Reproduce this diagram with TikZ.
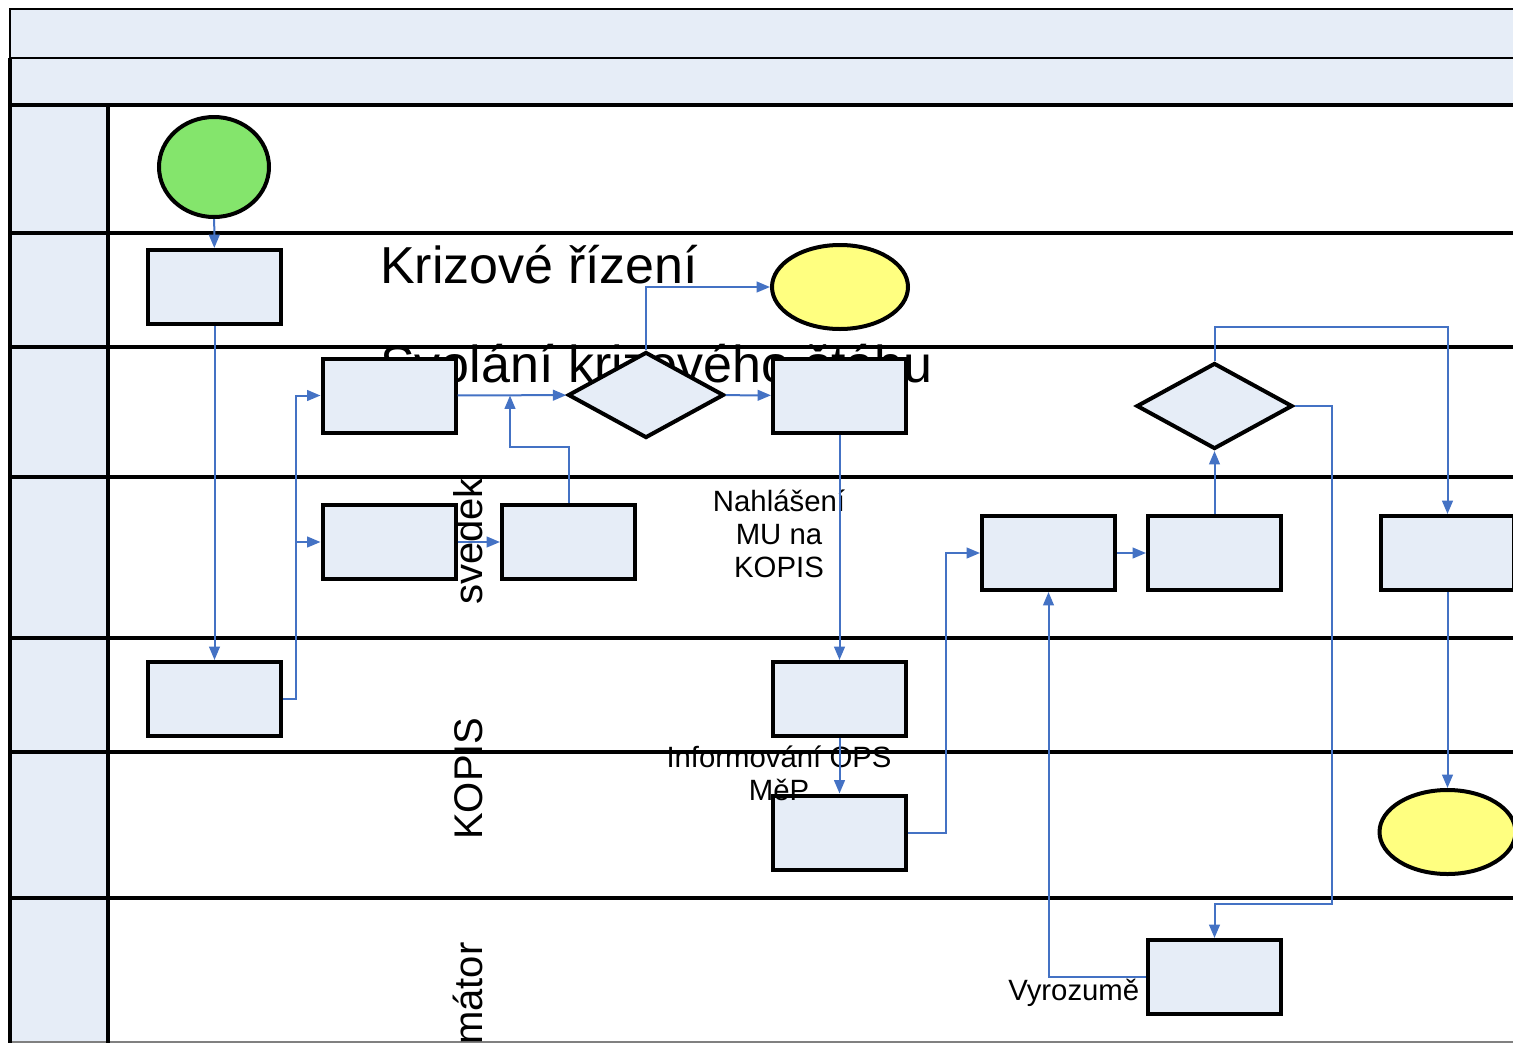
\documentclass[tikz,border=0pt]{standalone}
\usepackage{fontspec}
\setmainfont{Liberation Sans}
\usetikzlibrary{arrows.meta,shapes.geometric}

\definecolor{paleblue}{RGB}{230,237,247}
\definecolor{flowblue}{RGB}{68,114,196}
\definecolor{startgreen}{RGB}{132,229,108}
\definecolor{endyellow}{RGB}{255,255,128}

\begin{document}
\begin{tikzpicture}[x=0.75pt, y=-0.75pt, >={Triangle[length=10pt,width=8pt]},
  task/.style={draw, line width=3pt, fill=paleblue, minimum width=99.75pt, minimum height=55.5pt, inner sep=0pt},
  gate/.style={draw, diamond, line width=3pt, fill=paleblue, minimum width=117pt, minimum height=64.5pt, inner sep=0pt},
  startev/.style={draw, ellipse, line width=3pt, fill=startgreen, minimum width=82.5pt, minimum height=75pt, inner sep=0pt},
  endev/.style={draw, ellipse, line width=3pt, fill=endyellow, minimum width=102pt, minimum height=63pt, inner sep=0pt},
  flow/.style={->, draw=flowblue, line width=1.5pt},
  lane/.style={line width=3pt},
  lanename/.style={rotate=90, anchor=base west, inner sep=0pt, font=\fontsize{30}{34}\selectfont},
  note/.style={inner sep=0pt, align=center, font=\fontsize{22}{24.4}\selectfont}]
  \useasboundingbox (0,0) rectangle (1513,1043);
  \clip (0,0) rectangle (1513,1043);

  % header bands and lane heads
  \draw[fill=paleblue, line width=1pt] (10,9) rectangle (1530,58);
  \draw[fill=paleblue, line width=2pt] (10,58) rectangle (1530,105);
  \fill[paleblue] (10,105) rectangle (108,1043);
  \draw[gray, line width=1pt] (10,1042) -- (1513,1042);

  % lanes
  \draw[lane] (10,105) -- (1513,105);
  \draw[lane] (10,233) -- (1513,233);
  \draw[lane] (10,347) -- (1513,347);
  \draw[lane] (10,477) -- (1513,477);
  \draw[lane] (10,638) -- (1513,638);
  \draw[lane] (10,752) -- (1513,752);
  \draw[lane] (10,898) -- (1513,898);
  \draw[lane] (10,58) -- (10,1043);
  \draw[lane] (108,105) -- (108,1043);

  \node[inner sep=0pt, anchor=base west, font=\fontsize{39}{44}\selectfont] (krize) at (380,283) {Krizové řízení};
  \node[inner sep=0pt, anchor=base west, font=\fontsize{39}{44}\selectfont] (svolani) at (380,382) {Svolání krizového štábu};
  \node[lanename] (svedek) at (482,605) {svedek};
  \node[lanename] (kopis) at (482,840) {KOPIS};
  \node[lanename] (informator) at (482,1045) {mátor};

  % activities
  \node[startev] (start) at (214,167) {};
  \node[task] (b1) at (214.5,287) {};
  \node[task] (b2) at (389,395.5) {};
  \node[gate] (g1) at (646,395) {};
  \node[task] (b3) at (839.5,395.5) {};
  \node[endev] (e1) at (840,287) {};
  \node[task] (b4) at (389,542) {};
  \node[task] (b5) at (568.5,542) {};
  \node[task] (b6) at (214.5,699) {};
  \node[task] (b7) at (839.5,699) {};
  \node[task] (b8) at (839.5,832.5) {};
  \node[task] (b9) at (1048.5,553) {};
  \node[task] (b10) at (1214.5,553) {};
  \node[gate] (g2) at (1214.5,406) {};
  \node[task] (b11) at (1447.5,553) {};
  \node[endev] (e2) at (1447.5,832) {};
  \node[task] (b12) at (1214.5,977) {};
  \coordinate (j1) at (510,395.5);

  \node[note, anchor=base] (nahlaseni) at (779,577) {Nahlášení\\MU na\\KOPIS};
  \node[note, anchor=base] (informovani) at (779,800) {Informování OPS\\MěP};
  \node[note, anchor=base west] (vyrozumeni) at (1008,1000) {Vyrozumě};

  % flows
  \draw[flow] (start) -- (b1);
  \draw[flow] (b1) -- (b6);
  \draw[flow] (b6.east) -| (296,395.5) -- (b2.west);
  \draw[flow] (b6.east) -| (296,542) -- (b4.west);
  \draw[flow] (b2) -- (g1);
  \draw[flow] (b4) -- (b5);
  \draw[flow] (b5.north) -- ++(0,-56) -| (j1);
  \draw[flow] (g1.north) |- (e1.west);
  \draw[flow] (g1) -- (b3);
  \draw[flow] (b3) -- (b7);
  \draw[flow] (b7) -- (b8);
  \draw[flow] (b8.east) -| (946,553) -- (b9.west);
  \draw[flow] (b9) -- (b10);
  \draw[flow] (b10) -- (g2);
  \draw[flow] (g2.north) -- (g2.north |- 0,327) -| (b11.north);
  \draw[flow] (g2.east) -| (1332,904) -| (b12.north);
  \draw[flow] (b11) -- (e2);
  \draw[flow] (b12.west) -| (b9.south);
\end{tikzpicture}
\end{document}
